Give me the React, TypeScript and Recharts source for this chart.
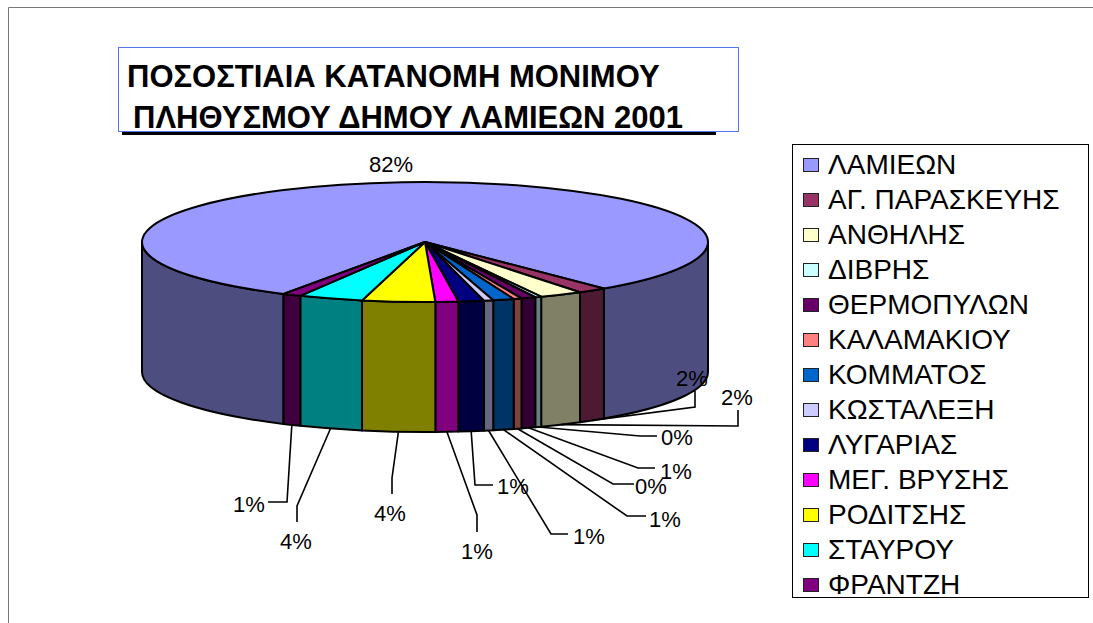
import { PieChart, Pie, Cell, Legend } from 'recharts';

const municipalities = [
  'ΛΑΜΙΕΩΝ', 'ΑΓ. ΠΑΡΑΣΚΕΥΗΣ', 'ΑΝΘΗΛΗΣ', 'ΔΙΒΡΗΣ', 'ΘΕΡΜΟΠΥΛΩΝ', 'ΚΑΛΑΜΑΚΙΟΥ', 'ΚΟΜΜΑΤΟΣ',
  'ΚΩΣΤΑΛΕΞΗ', 'ΛΥΓΑΡΙΑΣ', 'ΜΕΓ. ΒΡΥΣΗΣ', 'ΡΟΔΙΤΣΗΣ', 'ΣΤΑΥΡΟΥ', 'ΦΡΑΝΤΖΗ',
];
const shares = [81.5, 1.6, 2.4, 0.35, 0.8, 0.45, 1.15, 0.52, 1.4, 1.25, 4.0, 3.55, 1.03];
const colors = [
  '#9999FF', '#993366', '#FFFFCC', '#CCFFFF', '#660066', '#FF8080', '#0066CC',
  '#CCCCFF', '#000080', '#FF00FF', '#FFFF00', '#00FFFF', '#800080',
];
const titleLines = ['ΠΟΣΟΣΤΙΑΙΑ ΚΑΤΑΝΟΜΗ ΜΟΝΙΜΟΥ', 'ΠΛΗΘΥΣΜΟΥ ΔΗΜΟΥ ΛΑΜΙΕΩΝ 2001'];

const data = municipalities.map((name, i) => ({ name, value: shares[i] }));

const RX = 283;
const RY = 60;
const DEPTH = 130;
const FONT = '"Liberation Sans", Arial, sans-serif';

// label centre, then the elbow of the leader line (null = no leader)
const labelSpots: { x: number; y: number; line: number[] | null }[] = [
  { x: 391, y: 164, line: null },
  { x: 692, y: 378, line: [695, 407, 695, 391] },
  { x: 737, y: 397, line: [738, 426, 738, 410] },
  { x: 677, y: 437, line: [640, 436, 657, 436] },
  { x: 676, y: 471, line: [638, 468, 655, 468] },
  { x: 651, y: 486, line: [613, 484, 634, 484] },
  { x: 665, y: 519, line: [627, 516, 646, 516] },
  { x: 589, y: 536, line: [551, 534, 568, 534] },
  { x: 513, y: 486, line: [475, 485, 493, 485] },
  { x: 477, y: 551, line: [477, 515, 477, 532] },
  { x: 390, y: 513, line: [392, 478, 392, 494] },
  { x: 296, y: 541, line: [297, 506, 297, 522] },
  { x: 249, y: 504, line: [287, 502, 268, 502] },
];

function darken(hex: string) {
  const n = parseInt(hex.slice(1), 16);
  const half = (c: number) => Math.round(c / 2).toString(16).padStart(2, '0');
  return `#${half((n >> 16) & 255)}${half((n >> 8) & 255)}${half(n & 255)}`;
}

// the 3D view makes the front of the pie read a little wider than its true angle
function perspective(deg: number) {
  const n = ((deg % 360) + 360) % 360;
  return n >= 50.8 && n <= 117.5 ? deg + (n - 50.8) * 0.039 : deg;
}

function rim(cx: number, cy: number, deg: number) {
  const r = (deg * Math.PI) / 180;
  return { x: cx + RX * Math.cos(r), y: cy + RY * Math.sin(r) };
}

// top face and the visible part of the wall, squashed to an ellipse
function Slice3D(props: any) {
  const { cx, cy, startAngle, endAngle, fill } = props;
  const a = perspective(-startAngle);
  const b = perspective(-endAngle);
  const from = rim(cx, cy, a);
  const to = rim(cx, cy, b);
  const large = b - a > 180 ? 1 : 0;
  const top = `M${cx},${cy}L${from.x},${from.y}A${RX},${RY} 0 ${large} 1 ${to.x},${to.y}Z`;

  const walls: string[] = [];
  for (const k of [-360, 0]) {
    const s = Math.max(a, k);
    const e = Math.min(b, k + 180);
    if (e <= s) continue;
    const p = rim(cx, cy, s);
    const q = rim(cx, cy, e);
    walls.push(
      `M${p.x},${p.y}A${RX},${RY} 0 0 1 ${q.x},${q.y}L${q.x},${q.y + DEPTH}A${RX},${RY} 0 0 0 ${p.x},${p.y + DEPTH}Z`,
    );
  }
  return (
    <g stroke="#000" strokeWidth={2} strokeLinejoin="round">
      {walls.map((d, i) => <path key={i} d={d} fill={darken(fill)} />)}
      <path d={top} fill={fill} />
    </g>
  );
}

function SliceLabel(props: any) {
  const { cx, cy, midAngle, index, value } = props;
  const spot = labelSpots[index];
  let leader = null;
  if (spot.line) {
    const p = rim(cx, cy, perspective(-midAngle));
    const [ex, ey, tx, ty] = spot.line;
    leader = (
      <polyline
        points={`${p.x},${p.y + DEPTH} ${ex},${ey} ${tx},${ty}`}
        fill="none"
        stroke="#000"
        strokeWidth={1.6}
      />
    );
  }
  return (
    <g>
      {leader}
      <text x={spot.x} y={spot.y} dy=".36em" textAnchor="middle" fontFamily={FONT} fontSize={22} fill="#000">
        {Math.round(value)}%
      </text>
    </g>
  );
}

function LegendBox({ payload }: any) {
  return (
    <div style={{
      boxSizing: 'border-box',
      width: 297,
      height: 454,
      border: '1px solid #000',
      background: '#fff',
      position: 'relative',
    }}>
      {(payload || []).map((item: any, i: number) => (
        <div key={i} style={{
          position: 'absolute',
          left: 10,
          top: 2 + i * 35,
          height: 35,
          display: 'flex',
          alignItems: 'center',
          fontFamily: FONT,
          fontSize: 28,
          color: '#000',
          whiteSpace: 'nowrap',
        }}>
          <span style={{
            display: 'inline-block',
            boxSizing: 'border-box',
            width: 16,
            height: 14,
            background: item.color,
            border: '1.5px solid #222',
            marginRight: 9,
          }} />
          {item.value}
        </div>
      ))}
    </div>
  );
}

export default function App() {
  return (
    <div style={{ position: 'absolute', left: 0, top: 0, width: 1093, height: 623, background: '#fff' }}>
      <PieChart width={1093} height={623} margin={{ top: 0, right: 0, bottom: 0, left: 0 }}>
        <path d="M8.5,623V7.5H1093" fill="none" stroke="#777" strokeWidth={1} />
        <rect x={122} y={131} width={594} height={4} fill="#000" />
        <rect x={118.5} y={47.5} width={620} height={84} fill="#fff" fillOpacity={0} stroke="#5577ee" strokeWidth={1} />
        <text x={127} y={87} fontFamily={FONT} fontSize={31} fontWeight={700} fill="#000">{titleLines[0]}</text>
        <text x={133} y={128} fontFamily={FONT} fontSize={31} fontWeight={700} fill="#000">{titleLines[1]}</text>
        <Pie
          data={data}
          dataKey="value"
          nameKey="name"
          cx={425}
          cy={242}
          outerRadius={RX}
          startAngle={242.6}
          endAngle={-117.4}
          paddingAngle={0}
          shape={Slice3D}
          label={SliceLabel}
          labelLine={false}
          isAnimationActive={false}
        >
          {data.map((_, i) => <Cell key={i} fill={colors[i]} />)}
        </Pie>
        <Legend
          content={<LegendBox />}
          itemSorter={null}
          wrapperStyle={{ position: 'absolute', left: 792, top: 144, width: 297, height: 454 }}
        />
      </PieChart>
    </div>
  );
}
